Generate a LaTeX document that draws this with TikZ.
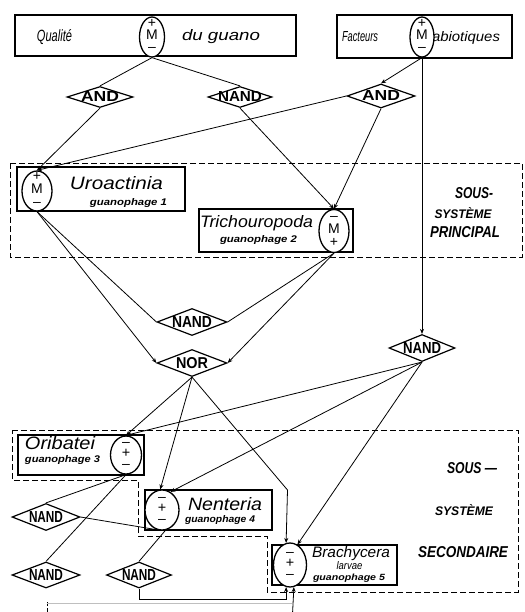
\documentclass[tikz,border=0pt]{standalone}
\usepackage{fontspec}
\setmainfont{Liberation Sans}
\usepackage{graphicx}
\usetikzlibrary{shapes.geometric,arrows.meta,calc}
\newcommand\fw[3][\height]{\resizebox{#2pt}{#1}{#3}}
\newcommand\ctr[1]{\makebox[0pt]{\raisebox{\dimexpr(\depth-\height)/2\relax}[0pt][0pt]{#1}}}
\newcommand\tri[4]{\begin{tabular}{@{}c@{}}#2\\[#1]#3\\[#1]#4\end{tabular}}
\begin{document}
\begin{tikzpicture}[x=1pt,y=-1pt,
  box/.style={draw,line width=1.3pt,inner sep=0pt},
  pop/.style={ellipse,draw,line width=1.3pt,fill=white,inner sep=0pt,minimum width=28pt,minimum height=40pt,font=\fontsize{14}{14}\selectfont},
  gate/.style={diamond,draw,line width=1.2pt,fill=white,inner sep=0pt,font=\bfseries\fontsize{13}{13}\selectfont},
  conn/.style={line width=0.8pt},
  arr/.style={conn,-{Stealth[length=5pt,width=4pt]}},
  sub/.style={draw,line width=0.9pt,dash pattern=on 6pt off 3pt},
  hand/.style={inner sep=0pt,font=\itshape\fontsize{#1}{#1}\selectfont},
  handb/.style={inner sep=0pt,font=\bfseries\itshape\fontsize{#1}{#1}\selectfont},
]
\useasboundingbox (0,0) rectangle (524,612);

% subsystem frames
\draw[sub] (10,163) rectangle (522,257);
\draw[sub] (12,430) -- (518,430) -- (518,592) -- (267,592) -- (267,536) -- (138,536) -- (138,480) -- (12,480) -- cycle;
\draw[line width=0.7pt,dash pattern=on 4pt off 2pt] (47,612) -- (47,601);
\draw[line width=0.5pt,gray!50] (47,603) -- (292,603);

% boxes
\node[box,minimum width=281pt,minimum height=41pt] (qb) at (155.5,35.5) {};
\node[box,minimum width=175pt,minimum height=43pt] (fb) at (424.5,36.5) {};
\node[box,minimum width=168pt,minimum height=44pt] (ub) at (101,189) {};
\node[box,minimum width=154pt,minimum height=43pt] (tb) at (276,230.5) {};
\node[box,minimum width=126pt,minimum height=40pt] (ob) at (81,455) {};
\node[box,minimum width=127pt,minimum height=40pt] (nb) at (208.5,510) {};
\node[box,minimum width=125pt,minimum height=40pt] (bb) at (334.5,565) {};

% texts
\node[hand=14] (tq) at (54.5,37) {\fw[12pt]{35}{Qualité}};
\node[hand=14] (tdg) at (221,37) {\fw[11pt]{78}{du guano}};
\node[hand=12] (tf) at (360,37) {\fw[10pt]{36}{Facteurs}};
\node[hand=12] (tab) at (466,38) {\fw[10pt]{68}{abiotiques}};
\node[hand=15] (tu) at (116.5,183) {\fw[13pt]{93}{Uroactinia}};
\node[handb=9] (tu2) at (128.5,203) {\fw[7pt]{77}{guanophage 1}};
\node[hand=14] (tt) at (256.5,223) {\fw[12pt]{113}{Trichouropoda}};
\node[handb=9] (tt2) at (258.5,240) {\fw[7pt]{77}{guanophage 2}};
\node[hand=15] (to) at (60,443) {\fw[13pt]{70}{Oribatei}};
\node[handb=9] (to2) at (62.5,460) {\fw[7pt]{75}{guanophage 3}};
\node[hand=15] (tn) at (225,504) {\fw[13pt]{74}{Nenteria}};
\node[handb=9] (tn2) at (220,520) {\fw[7pt]{70}{guanophage 4}};
\node[hand=13] (tbr) at (351,554) {\fw[11pt]{78}{Brachycera}};
\node[hand=11] (tla) at (349.5,566) {\fw[8pt]{26}{larvae}};
\node[handb=8] (tg5) at (349,578) {\fw[6.5pt]{72}{guanophage 5}};

\node[handb=14] (sp1) at (474,193) {\fw[11pt]{38}{SOUS-}};
\node[handb=14] (sp2) at (463,213) {\fw[11pt]{57}{SYSTÈME}};
\node[handb=14] (sp3) at (465,232) {\fw[11pt]{70}{PRINCIPAL}};
\node[handb=14] (ss1) at (472,468) {\fw[11pt]{50}{SOUS —}};
\node[handb=14] (ss2) at (464,510) {\fw[11pt]{58}{SYSTÈME}};
\node[handb=14] (ss3) at (463,552) {\fw[11pt]{90}{SECONDAIRE}};

% population / factor symbols
\node[pop,minimum width=25pt,minimum height=40pt] (qm) at (152,37) {\ctr{\tri{-2pt}{+}{M}{–}}};
\node[pop,minimum width=24pt,minimum height=40pt] (fm) at (422,37) {\ctr{\tri{-2pt}{+}{M}{–}}};
\node[pop,minimum width=30pt,minimum height=40pt] (u) at (37,191) {\ctr{\tri{-1pt}{+}{M}{–}}};
\node[pop,minimum width=30pt,minimum height=43pt] (t) at (334,231) {\ctr{\tri{-1pt}{–}{M}{+}}};
\node[pop,minimum width=31pt,minimum height=38pt] (o) at (126,455) {\ctr{\tri{-3pt}{–}{\Large+}{–}}};
\node[pop,minimum width=34pt,minimum height=40pt] (n) at (162,510) {\ctr{\tri{-3pt}{–}{\Large+}{–}}};
\node[pop,minimum width=33pt,minimum height=44pt] (b) at (290,565) {\ctr{\tri{-3pt}{–}{\Large+}{–}}};

% gates
\node[gate,minimum width=66pt,minimum height=21pt] (and1) at (100,97) {\ctr{\fw[10pt]{38}{AND}}};
\node[gate,minimum width=64pt,minimum height=21pt] (nand1) at (240,97) {\ctr{\fw[10pt]{44}{NAND}}};
\node[gate,minimum width=68pt,minimum height=24pt] (and2) at (381,96) {\ctr{\fw[10pt]{38}{AND}}};
\node[gate,minimum width=70pt,minimum height=27pt] (nand2) at (192,322) {\ctr{\fw[11pt]{40}{NAND}}};
\node[gate,minimum width=70pt,minimum height=27pt] (nor) at (192,363) {\ctr{\fw[11pt]{32}{NOR}}};
\node[gate,minimum width=66pt,minimum height=27pt] (nand3) at (422,348) {\ctr{\fw[11pt]{38}{NAND}}};
\node[gate,minimum width=68pt,minimum height=27pt] (nand4) at (46,517) {\ctr{\fw[11pt]{34}{NAND}}};
\node[gate,minimum width=68pt,minimum height=26pt] (nand5) at (46,575) {\ctr{\fw[11pt]{34}{NAND}}};
\node[gate,minimum width=65pt,minimum height=26pt] (nand6) at (139,575) {\ctr{\fw[11pt]{34}{NAND}}};

% helper coordinates
\coordinate (k1) at (287.5,490);
\coordinate (r1) at (139,599);
\coordinate (bot) at (292.6,612);

% connectors
\draw[conn] (qm.south) -- (and1.north);
\draw[conn] (qm.south) -- (nand1.north);
\draw[arr] (fm.south) -- (and2.north);
\draw[arr] (fm.south) -- (fm.south |- nand3.north);
\draw[arr] (and1.south) -- (u.north);
\draw[arr] (and2.west) -- (u.north);
\draw[arr] (nand1.south) -- (t.north);
\draw[arr] (and2.south) -- (t.north);
\draw[conn] (u.south) -- (nand2.west);
\draw[arr] (u.south) -- (nor.west);
\draw[conn] (t.south) -- (nand2.east);
\draw[arr] (t.south) -- (nor.east);
\draw[arr] (nor.south) -- (o.north);
\draw[arr] (nor.south) -- (n.95);
\draw[arr] (nor.south) -- (k1) -- (b.100);
\draw[arr] (nand3.south) -- (o.north);
\draw[arr] (nand3.south) -- (n.65);
\draw[arr] (nand3.south) -- (b.70);
\draw[conn] (o.south) -- (nand4.north);
\draw[conn] (o.south) -- (nand5.north);
\draw[conn] (nand4.east) -- (n.-105);
\draw[conn] (nand6.north) -- (n.-80);
\draw[arr] (nand6.south) -- (r1) -| (b.-100);
\draw[arr] (bot) -- (b.-80);
\end{tikzpicture}
\end{document}
